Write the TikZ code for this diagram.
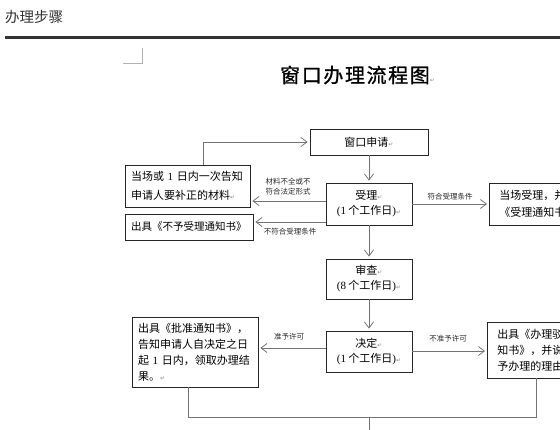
\documentclass[tikz,border=0pt]{standalone}
\usepackage{fontspec}
\setmainfont{Liberation Serif}
\newfontfamily\cjk{Noto Sans CJK SC}
\newfontfamily\cjktitle[LetterSpace=8,FakeBold=1]{Noto Sans CJK SC}
\newfontfamily\dejavu{DejaVu Sans}
\newfontfamily\latfont{Liberation Serif}
\newcommand{\lat}[1]{{\latfont #1}}
\newcommand{\retmark}{{\dejavu\fontsize{6}{6}\selectfont\textcolor{black!45}{↵}}}
\usetikzlibrary{arrows.meta,calc}
\begin{document}
\begin{tikzpicture}[x=1pt,y=-1pt,
  box/.style={draw=black!85, line width=0.8pt, inner sep=0pt, align=center,
    font=\cjk\fontsize{11}{15}\selectfont},
  conn/.style={draw=black!55, line width=0.9pt},
  arr/.style={conn, -{Straight Barb[length=6pt,width=9pt,line width=0.8pt]}, shorten >=2pt},
  lbl/.style={font=\cjk\fontsize{7.5}{10}\selectfont, inner sep=0pt, text=black!85, align=center}]
\useasboundingbox (0,0) rectangle (560,430);
\clip (0,0) rectangle (560,430);

% header
\node[anchor=west, font=\cjk\fontsize{14.5}{15}\selectfont, text=black!80, inner sep=0pt] (hdr) at (5,17) {办理步骤};
\draw[line width=3pt, draw=black!80] (5,37.5) -- (560,37.5);
\draw[gray!60, line width=0.8pt] (142,48) -- (142,63) -- (123,63);

% title
\node[anchor=west, inner sep=0pt, font=\cjktitle\fontsize{20}{20}\selectfont] (title) at (280,75) {窗口办理流程图\retmark};

% boxes
\node[box, minimum width=118, minimum height=26] (apply) at (369,142) {窗口申请\retmark};
\node[box, minimum width=86, minimum height=42] (accept) at (369,204) {受理\retmark\\\lat{(1} 个工作日\lat{)}\retmark};
\node[box, minimum width=125, minimum height=42, text width=113, align=left,
  font=\cjk\fontsize{11}{19}\selectfont] (left1) at (187.5,186) {当场或 \lat{1} 日内一次告知\\申请人要补正的材料\retmark};
\node[box, minimum width=128, minimum height=26, text width=116, align=left,
  font=\cjk\fontsize{10.5}{15}\selectfont] (left2) at (189,227) {出具《不予受理通知书》};
\node[box, anchor=west, minimum width=120, minimum height=42, text width=100, align=left,
  font=\cjk\fontsize{11}{17}\selectfont] (right1) at (489,204) {当场受理，并出具\\《受理通知书》};
\node[box, minimum width=86, minimum height=40] (review) at (369,279) {审查\retmark\\\lat{(8} 个工作日\lat{)}\retmark};
\node[box, minimum width=86, minimum height=41] (decide) at (369,351.5) {决定\retmark\\\lat{(1} 个工作日\lat{)}\retmark};
\node[box, minimum width=126, minimum height=70, text width=114, align=left,
  font=\cjk\fontsize{11}{16}\selectfont] (left3) at (195,352) {出具《批准通知书》，\\告知申请人自决定之日\\起 \lat{1} 日内，领取办理结\\果。\retmark};
\node[box, anchor=west, minimum width=120, minimum height=56, text width=100, align=left,
  font=\cjk\fontsize{11}{16}\selectfont] (right3) at (487,350) {出具《办理驳回通\\知书》，并说明不\\予办理的理由。};

% helper coordinates
\coordinate (c1) at (203,0);
\coordinate (y1) at (0,201);
\coordinate (y2) at (0,222);
\coordinate (y3) at (0,348);
\coordinate (y4) at (0,351);
\coordinate (lx) at (188,0);
\coordinate (rx) at (536,0);
\coordinate (by) at (0,417);

% connectors
\draw[arr] (left1.north -| c1) |- (apply.west);
\draw[arr] (apply) -- (accept);
\draw[arr] (accept.west |- y1) -- (left1.east |- y1);
\draw[arr] (accept.west |- y2) -- (left2.east |- y2);
\draw[arr] (accept.east) -- (right1.west);
\draw[arr] (accept) -- (review);
\draw[arr] (review) -- (decide);
\draw[arr] (decide.west |- y3) -- (left3.east |- y3);
\draw[arr] (decide.east |- y4) -- (right3.west |- y4);
\draw[conn] (left3.south -| lx) |- (by -| rx) -- (right3.south -| rx);
\draw[arr] (accept.south |- by) -- ++(0,22);

% labels
\node[lbl] (l1) at (288,187) {材料不全或不\\符合法定形式};
\node[lbl] (l2) at (290,232) {不符合受理条件};
\node[lbl] (l3) at (450,197) {符合受理条件};
\node[lbl] (l4) at (289,337) {准予许可};
\node[lbl] (l5) at (448,339) {不准予许可};
\end{tikzpicture}
\end{document}
